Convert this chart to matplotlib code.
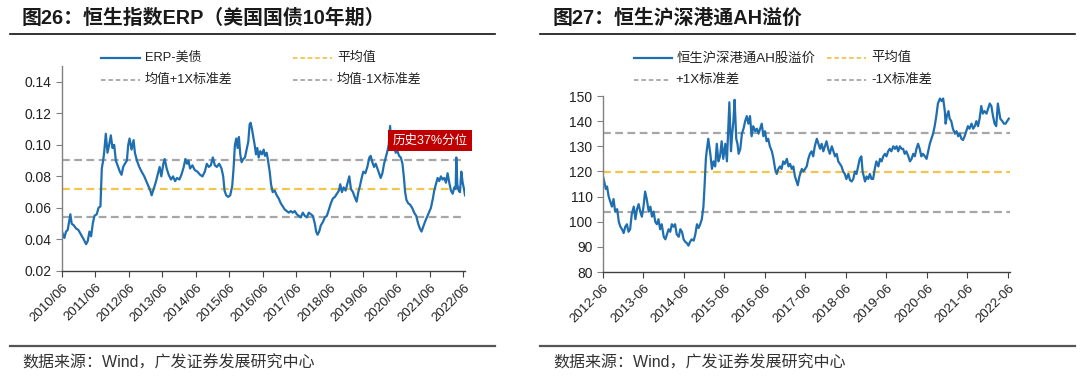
import numpy as np
import matplotlib
matplotlib.use("Agg")
import matplotlib.pyplot as plt
from matplotlib.lines import Line2D

plt.rcParams['font.family'] = ['Liberation Sans', 'Noto Sans CJK SC', 'DejaVu Sans']
plt.rcParams['axes.unicode_minus'] = False

# ---- 图26 data: ERP (decimal year, value)
erp_t = [2010.50, 2010.53, 2010.57, 2010.62, 2010.67, 2010.72, 2010.75, 2010.79, 2010.85, 2010.92,
         2010.99, 2011.07, 2011.15, 2011.22, 2011.27, 2011.32, 2011.37, 2011.42, 2011.47, 2011.54,
         2011.59, 2011.65, 2011.69, 2011.73, 2011.76, 2011.81, 2011.86, 2011.91, 2011.96, 2012.01,
         2012.06, 2012.11, 2012.16, 2012.23, 2012.28, 2012.33, 2012.38, 2012.44, 2012.48, 2012.52,
         2012.58, 2012.64, 2012.68, 2012.74, 2012.81, 2012.88, 2012.96, 2013.02, 2013.08, 2013.14,
         2013.18, 2013.24, 2013.30, 2013.36, 2013.42, 2013.47, 2013.53, 2013.57, 2013.63, 2013.69,
         2013.76, 2013.82, 2013.88, 2013.94, 2014.01, 2014.07, 2014.14, 2014.19, 2014.24, 2014.28,
         2014.33, 2014.40, 2014.47, 2014.55, 2014.63, 2014.70, 2014.77, 2014.83, 2014.89, 2014.95,
         2015.01, 2015.07, 2015.13, 2015.20, 2015.27, 2015.32, 2015.36, 2015.41, 2015.47, 2015.53,
         2015.59, 2015.63, 2015.67, 2015.71, 2015.75, 2015.79, 2015.83, 2015.87, 2015.92, 2015.97,
         2016.02, 2016.07, 2016.11, 2016.14, 2016.18, 2016.22, 2016.26, 2016.30, 2016.34, 2016.38,
         2016.43, 2016.48, 2016.53, 2016.57, 2016.62, 2016.66, 2016.71, 2016.75, 2016.80, 2016.86,
         2016.92, 2016.98, 2017.04, 2017.10, 2017.16, 2017.22, 2017.28, 2017.34, 2017.40, 2017.46,
         2017.52, 2017.58, 2017.64, 2017.70, 2017.76, 2017.82, 2017.88, 2017.94, 2018.00, 2018.06,
         2018.10, 2018.14, 2018.19, 2018.24, 2018.30, 2018.36, 2018.42, 2018.48, 2018.54, 2018.60,
         2018.66, 2018.72, 2018.78, 2018.82, 2018.87, 2018.92, 2018.98, 2019.04, 2019.09, 2019.14,
         2019.20, 2019.25, 2019.31, 2019.36, 2019.41, 2019.46, 2019.51, 2019.57, 2019.63, 2019.69,
         2019.73, 2019.78, 2019.83, 2019.88, 2019.93, 2019.98, 2020.03, 2020.08, 2020.13, 2020.18,
         2020.23, 2020.27, 2020.31, 2020.35, 2020.39, 2020.43, 2020.48, 2020.53, 2020.58, 2020.63,
         2020.68, 2020.72, 2020.76, 2020.80, 2020.85, 2020.91, 2020.97, 2021.03, 2021.09, 2021.15,
         2021.20, 2021.25, 2021.30, 2021.35, 2021.41, 2021.47, 2021.53, 2021.59, 2021.63, 2021.68,
         2021.73, 2021.78, 2021.83, 2021.88, 2021.93, 2021.98, 2022.03, 2022.08, 2022.13, 2022.18,
         2022.23, 2022.27, 2022.29, 2022.32, 2022.36, 2022.40, 2022.44, 2022.48, 2022.52, 2022.55]
erp_v = [0.045, 0.043, 0.041, 0.045, 0.046, 0.052, 0.056, 0.050, 0.049, 0.047,
         0.046, 0.043, 0.040, 0.037, 0.039, 0.045, 0.042, 0.050, 0.055, 0.056,
         0.060, 0.061, 0.085, 0.090, 0.095, 0.107, 0.095, 0.100, 0.106, 0.098,
         0.100, 0.090, 0.087, 0.083, 0.081, 0.086, 0.088, 0.090, 0.100, 0.104,
         0.097, 0.103, 0.095, 0.090, 0.086, 0.083, 0.080, 0.077, 0.074, 0.071,
         0.068, 0.072, 0.076, 0.081, 0.086, 0.080, 0.088, 0.091, 0.085, 0.081,
         0.078, 0.080, 0.077, 0.079, 0.078, 0.081, 0.086, 0.091, 0.088, 0.090,
         0.085, 0.087, 0.084, 0.083, 0.081, 0.080, 0.083, 0.088, 0.086, 0.087,
         0.092, 0.087, 0.086, 0.088, 0.085, 0.080, 0.071, 0.068, 0.067, 0.068,
         0.074, 0.085, 0.100, 0.104, 0.098, 0.105, 0.094, 0.089, 0.091, 0.092,
         0.097, 0.102, 0.113, 0.114, 0.110, 0.105, 0.100, 0.094, 0.098, 0.092,
         0.096, 0.094, 0.097, 0.093, 0.095, 0.090, 0.083, 0.075, 0.070, 0.071,
         0.068, 0.066, 0.063, 0.061, 0.059, 0.058, 0.057, 0.058, 0.057, 0.058,
         0.056, 0.055, 0.054, 0.057, 0.055, 0.054, 0.057, 0.056, 0.055, 0.050,
         0.045, 0.043, 0.045, 0.049, 0.051, 0.054, 0.055, 0.059, 0.063, 0.066,
         0.067, 0.069, 0.071, 0.075, 0.070, 0.073, 0.071, 0.076, 0.080, 0.072,
         0.070, 0.067, 0.064, 0.070, 0.074, 0.079, 0.083, 0.082, 0.086, 0.092,
         0.093, 0.089, 0.086, 0.088, 0.085, 0.082, 0.079, 0.082, 0.088, 0.092,
         0.096, 0.100, 0.112, 0.101, 0.097, 0.098, 0.095, 0.096, 0.093, 0.092,
         0.088, 0.080, 0.070, 0.065, 0.063, 0.062, 0.060, 0.057, 0.055, 0.050,
         0.047, 0.045, 0.048, 0.051, 0.054, 0.057, 0.060, 0.066, 0.071, 0.075,
         0.079, 0.077, 0.080, 0.078, 0.079, 0.076, 0.082, 0.076, 0.071, 0.069,
         0.073, 0.072, 0.092, 0.075, 0.071, 0.070, 0.083, 0.076, 0.072, 0.068]
erp_mean = 0.072
erp_hi = 0.0905
erp_lo = 0.0545
erp_ticks = [2010.5 + i for i in range(13)]
erp_xlabels = [f"{2010 + i}/06" for i in range(13)]
erp_yticks = [0.02, 0.04, 0.06, 0.08, 0.10, 0.12, 0.14]

# ---- 图27 data: AH premium
ah_t = [2012.50, 2012.53, 2012.57, 2012.60, 2012.64, 2012.68, 2012.72, 2012.76, 2012.80, 2012.85,
        2012.89, 2012.93, 2012.97, 2013.01, 2013.05, 2013.09, 2013.13, 2013.17, 2013.21, 2013.26,
        2013.30, 2013.34, 2013.38, 2013.42, 2013.46, 2013.50, 2013.54, 2013.58, 2013.63, 2013.67,
        2013.71, 2013.75, 2013.79, 2013.83, 2013.87, 2013.91, 2013.95, 2014.00, 2014.04, 2014.08,
        2014.12, 2014.16, 2014.20, 2014.24, 2014.28, 2014.32, 2014.37, 2014.41, 2014.45, 2014.49,
        2014.53, 2014.57, 2014.61, 2014.65, 2014.69, 2014.74, 2014.78, 2014.82, 2014.86, 2014.90,
        2014.94, 2014.98, 2015.01, 2015.04, 2015.06, 2015.10, 2015.15, 2015.19, 2015.23, 2015.27,
        2015.31, 2015.35, 2015.39, 2015.43, 2015.47, 2015.52, 2015.56, 2015.60, 2015.62, 2015.66,
        2015.69, 2015.72, 2015.75, 2015.79, 2015.82, 2015.85, 2015.89, 2015.93, 2015.97, 2016.01,
        2016.05, 2016.09, 2016.13, 2016.17, 2016.21, 2016.26, 2016.30, 2016.34, 2016.38, 2016.42,
        2016.46, 2016.50, 2016.54, 2016.58, 2016.62, 2016.67, 2016.71, 2016.75, 2016.79, 2016.83,
        2016.87, 2016.91, 2016.95, 2016.99, 2017.04, 2017.08, 2017.12, 2017.16, 2017.20, 2017.24,
        2017.28, 2017.31, 2017.35, 2017.41, 2017.45, 2017.49, 2017.53, 2017.57, 2017.61, 2017.65,
        2017.69, 2017.73, 2017.78, 2017.82, 2017.86, 2017.90, 2017.94, 2017.98, 2018.02, 2018.06,
        2018.10, 2018.15, 2018.19, 2018.23, 2018.27, 2018.31, 2018.35, 2018.39, 2018.43, 2018.47,
        2018.51, 2018.56, 2018.60, 2018.64, 2018.68, 2018.72, 2018.76, 2018.80, 2018.84, 2018.88,
        2018.91, 2018.94, 2018.97, 2019.01, 2019.05, 2019.09, 2019.13, 2019.17, 2019.21, 2019.25,
        2019.30, 2019.34, 2019.38, 2019.42, 2019.46, 2019.50, 2019.54, 2019.58, 2019.62, 2019.67,
        2019.71, 2019.75, 2019.79, 2019.83, 2019.87, 2019.91, 2019.95, 2019.99, 2020.04, 2020.08,
        2020.12, 2020.16, 2020.20, 2020.24, 2020.28, 2020.32, 2020.36, 2020.40, 2020.45, 2020.49,
        2020.53, 2020.57, 2020.61, 2020.65, 2020.69, 2020.73, 2020.77, 2020.82, 2020.86, 2020.90,
        2020.94, 2020.96, 2020.99, 2021.03, 2021.06, 2021.10, 2021.14, 2021.19, 2021.23, 2021.27,
        2021.31, 2021.35, 2021.39, 2021.43, 2021.47, 2021.51, 2021.55, 2021.60, 2021.64, 2021.68,
        2021.72, 2021.76, 2021.80, 2021.84, 2021.88, 2021.92, 2021.97, 2022.01, 2022.05, 2022.09,
        2022.13, 2022.17, 2022.21, 2022.25, 2022.28, 2022.31, 2022.36, 2022.40, 2022.44, 2022.48,
        2022.52]
ah_v = [118, 116, 113, 114, 110, 108, 106, 109, 104, 105,
        100, 98, 97, 95.5, 98, 99, 96, 97, 103, 106,
        101, 105, 107, 104, 102, 106, 112, 109, 104, 106,
        102, 104, 100, 99, 101, 97, 99, 94, 93, 95,
        97, 96, 99, 98, 99, 95, 94, 97, 96, 93,
        92, 91.5, 90.5, 92, 93, 92.5, 95, 99, 97.5, 99,
        101, 106, 115, 125, 128, 133, 127, 121, 124, 122,
        131, 124, 126, 132, 125, 131, 124, 140, 147.5, 128,
        135, 140, 148.5, 133, 131, 127, 129, 135, 137, 140,
        142, 139, 142, 134, 138, 136, 137, 135, 137, 139,
        134, 136, 132, 133, 130, 128, 125, 121, 119, 121,
        122, 121, 124, 123, 125, 122, 123, 121, 122, 118,
        116, 114.5, 118, 121, 120, 121, 122, 125, 127, 128,
        126, 130, 133, 131, 129, 131, 128, 130, 132, 129,
        127, 130, 128, 126, 127, 124, 123, 122, 120, 119,
        117, 119, 116.5, 116, 117, 120, 119, 122, 125, 126,
        120, 118, 116, 118, 117, 119, 117, 117, 121, 124,
        122, 125, 124, 126, 127, 126, 128, 129, 128, 130,
        129, 130, 128, 130, 129, 129, 127, 128, 126, 124,
        125, 127, 126, 129, 131, 129, 126, 127, 126, 125,
        128, 131, 133, 135, 138, 142, 147, 149, 148, 149,
        144, 139, 142, 144, 141, 140, 137, 135, 136, 134,
        135, 133, 132.5, 134, 136, 138, 137, 139, 137, 138,
        140, 138, 141, 146, 143, 144, 143, 145, 147, 146,
        142, 139, 138, 147, 144, 141, 140, 139, 139, 140,
        141]
ah_mean = 119.8
ah_hi = 135.4
ah_lo = 104.0
ah_ticks = [2012.5 + i for i in range(11)]
ah_xlabels = [f"{2012 + i}-06" for i in range(11)]
ah_yticks = [80, 90, 100, 110, 120, 130, 140, 150]

BLUE = "#1f6eb0"
GOLD = "#f0c64c"
GRAY = "#a6a6a6"

W, H = 1080, 382
def fx(px):
    return px / W
def fy(py):
    return 1 - py / H

fig = plt.figure(figsize=(W / 100, H / 100), dpi=100)

def style_axes(ax, ticks, labels, yticks):
    ax.set_xticks(ticks)
    ax.set_xticklabels(labels, rotation=45, ha='right', rotation_mode='anchor', fontsize=9.5, color="#222222")
    ax.set_yticks(yticks)
    ax.tick_params(axis='y', labelsize=10, colors="#222222", length=4, width=0.8, direction='out')
    ax.tick_params(axis='x', length=4, width=0.8, direction='out', color="#404040")
    ax.tick_params(axis='y', color="#808080")
    for s in ['top', 'right']:
        ax.spines[s].set_visible(False)
    ax.spines['left'].set_color("#808080")
    ax.spines['bottom'].set_color("#404040")
    ax.spines['left'].set_linewidth(1.0)
    ax.spines['bottom'].set_linewidth(1.0)

def hlines(ax, x0, x1, mean, hi, lo):
    ax.plot([x0, x1], [hi, hi], color=GRAY, lw=1.6, dashes=(3.5, 2))
    ax.plot([x0, x1], [lo, lo], color=GRAY, lw=1.6, dashes=(3.5, 2))
    ax.plot([x0, x1], [mean, mean], color=GOLD, lw=1.6, dashes=(3.5, 2))

# ---------------- left chart
ax1 = fig.add_axes([fx(62), fy(271), fx(465) - fx(62), fy(66) - fy(271)])
hlines(ax1, 2010.5, 2022.55, erp_mean, erp_hi, erp_lo)
ax1.plot(erp_t, erp_v, color=BLUE, lw=1.6)
ax1.set_xlim(2010.5, 2022.55)
ax1.set_ylim(0.02, 0.15)
style_axes(ax1, erp_ticks, erp_xlabels, erp_yticks)
ax1.set_yticklabels([f"{v:.2f}" for v in erp_yticks])
ax1.text(2021.51, 0.1029, "历史37%分位", color="white", fontsize=9, ha='center', va='center',
         bbox=dict(boxstyle="square,pad=0.35", fc="#c00000", ec="none"))

# ---------------- right chart
ax2 = fig.add_axes([fx(603), fy(272), fx(1010) - fx(603), fy(96) - fy(272)])
hlines(ax2, 2012.5, 2022.55, ah_mean, ah_hi, ah_lo)
ax2.plot(ah_t, ah_v, color=BLUE, lw=1.6)
ax2.set_xlim(2012.5, 2022.55)
ax2.set_ylim(80, 150)
style_axes(ax2, ah_ticks, ah_xlabels, ah_yticks)

# ---------------- legends (drawn by hand to match the layout)
def leg_item(x0, x1, y, label, color, dashed, size=9.3):
    kw = dict(dashes=(2.5, 1.6)) if dashed else {}
    fig.add_artist(Line2D([fx(x0), fx(x1)], [fy(y), fy(y)], transform=fig.transFigure,
                          color=color, lw=1.6 if not dashed else 1.3, **kw))
    fig.text(fx(x1 + 5), fy(y), label, fontsize=size, va='center', color="#222222")

leg_item(101, 140, 58, "ERP-美债", BLUE, False)
leg_item(293, 332, 58, "平均值", GOLD, True)
leg_item(101, 140, 80, "均值+1X标准差", GRAY, True)
leg_item(293, 332, 80, "均值-1X标准差", GRAY, True)

leg_item(634, 672, 58, "恒生沪深港通AH股溢价", BLUE, False, 9.6)
leg_item(827, 866, 58, "平均值", GOLD, True, 9.6)
leg_item(634, 670, 80, "+1X标准差", GRAY, True, 9.6)
leg_item(827, 866, 80, "-1X标准差", GRAY, True, 9.6)

# ---------------- titles, rules, source notes
fig.text(fx(22), fy(18), "图26：恒生指数ERP（美国国债10年期）", fontsize=14.3, fontweight='bold',
         va='center', color="#1a1a1a")
fig.text(fx(553), fy(18), "图27：恒生沪深港通AH溢价", fontsize=14.3, fontweight='bold',
         va='center', color="#1a1a1a")
for x0, x1 in [(10, 495), (540, 1075)]:
    fig.add_artist(Line2D([fx(x0), fx(x1)], [fy(34), fy(34)], transform=fig.transFigure,
                          color="#111111", lw=1.2))
    fig.add_artist(Line2D([fx(x0), fx(x1)], [fy(346), fy(346)], transform=fig.transFigure,
                          color="#555555", lw=1.6))
fig.text(fx(22), fy(363), "数据来源：Wind，广发证券发展研究中心", fontsize=11.5, va='center', color="#333333")
fig.text(fx(553), fy(363), "数据来源：Wind，广发证券发展研究中心", fontsize=11.5, va='center', color="#333333")

fig.savefig("out.png", dpi=100, facecolor="white")
